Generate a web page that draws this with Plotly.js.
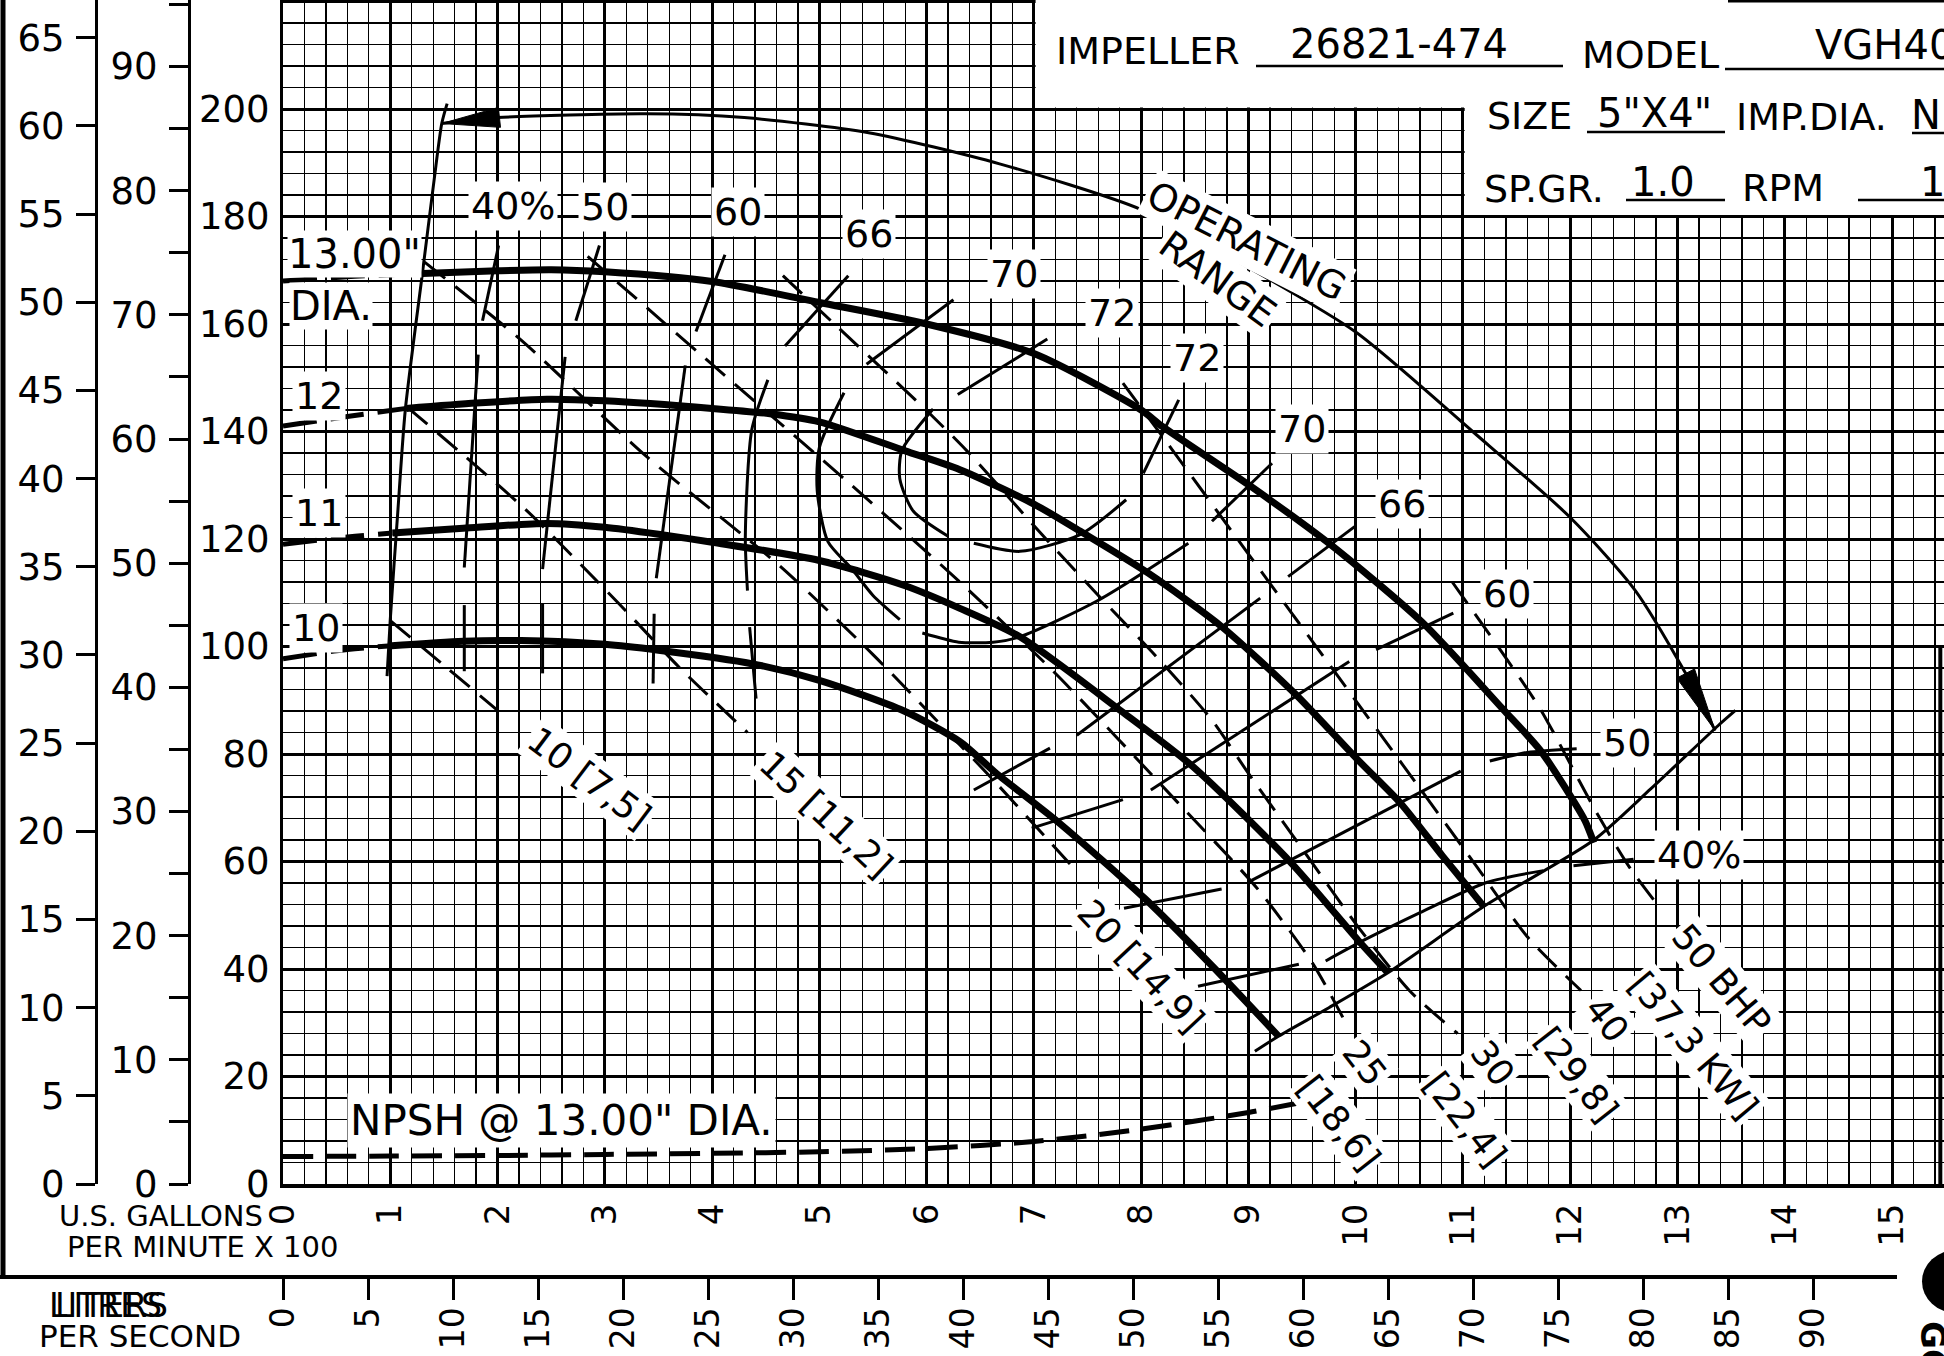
<!DOCTYPE html>
<html><head><meta charset="utf-8">
<script src="https://cdn.plot.ly/plotly-3.0.1.min.js"></script>
<style>html,body{margin:0;padding:0;background:#fff;}#chart{width:1944px;height:1356px;}</style>
</head><body><div id="chart"></div>
<script>
// ===== DATA (flow in US gpm x 100, head in feet) =====
const head13DashX = [0, 0.6, 1.3];
const head13DashY = [168, 168.8, 169.4];
const head13X = [1.3, 2.0, 2.5, 3.0, 4.0, 5.0, 6.0, 7.0, 8.0, 8.2, 9.0, 9.75, 10.62, 11.37, 11.72, 12.02, 12.14, 12.22];
const head13Y = [169.4, 169.9, 170.1, 169.7, 167.9, 164.0, 160.0, 154.5, 144.0, 140.9, 130.1, 119.2, 104.5, 88.4, 80.7, 71.6, 67.5, 63.5];

const head12DashX = [0, 0.6, 1.15];
const head12DashY = [141, 142.8, 144.3];
const head12X = [1.15, 1.8, 2.46, 3.0, 4.0, 4.54, 5.0, 5.8, 6.31, 7.0, 7.46, 8.07, 8.75, 9.43, 10.02, 10.42, 10.81, 11.2];
const head12Y = [144.3, 145.3, 146.0, 145.7, 144.3, 143.3, 141.8, 136.4, 132.9, 126.5, 121.1, 113.6, 103.7, 91.3, 78.9, 70.8, 61.0, 51.5];

const head11DashX = [0, 0.5, 1.02];
const head11DashY = [119, 120.2, 121.1];
const head11X = [1.02, 1.68, 2.46, 3.0, 3.5, 4.0, 5.0, 5.8, 6.31, 6.87, 7.8, 8.48, 9.4, 10.02, 10.3];
const head11Y = [121.1, 122.0, 122.9, 122.2, 120.9, 119.4, 116.0, 111.3, 107.1, 101.8, 88.2, 77.7, 59.7, 45.4, 39.3];

const head10DashX = [0, 0.5, 0.98];
const head10DashY = [97.7, 99.2, 100.1];
const head10X = [0.98, 1.68, 2.22, 3.0, 3.5, 4.37, 5.0, 5.79, 6.31, 6.65, 7.24, 8.04, 8.66, 9.28];
const head10Y = [100.1, 101.0, 101.1, 100.4, 99.3, 96.8, 93.7, 88.0, 82.3, 76.4, 67.1, 53.0, 40.6, 27.5];

const minFlowX = [0.97, 1.0, 1.07, 1.14, 1.3, 1.41, 1.48, 1.53];
const minFlowY = [94.5, 105, 125, 144, 169.5, 187, 197.3, 201];

const rangeX = [1.48, 2.0, 3.38, 4.3, 5.46, 6.68, 8.0, 9.0, 10.0, 11.09, 12.0, 12.6, 13.07, 13.35];
const rangeY = [197.3, 198.4, 199.1, 198.4, 195.6, 189.8, 181.3, 170.5, 158.5, 140.0, 124.0, 110.6, 95.2, 84.4];

const maxLineX = [9.06, 9.28, 9.75, 10.3, 11.2, 12.22, 12.75, 13.38, 13.54];
const maxLineY = [24.7, 27.5, 32.8, 39.3, 51.7, 64.0, 73.5, 85.3, 88.1];

const npshX = [0, 1, 2, 3, 4, 5, 6, 7, 8, 9, 9.75];
const npshY = [5.1, 5.2, 5.3, 5.5, 5.7, 6.0, 6.6, 7.9, 10.2, 13.3, 16.2];

// efficiency iso-lines (segments separated by null)
const eff40X = [2.01, 1.86, null, 1.82, 1.69, null, 1.69, 1.69, null, 12.59, 12.03, null, 11.75, 11.22, 10.6, 10.09, 9.72, null, 9.47, 8.53];
const eff40Y = [174.6, 160.6, null, 154.3, 114.7, null, 107.7, 95.4, null, 60.4, 59.2, null, 58.3, 56.1, 50.5, 45.5, 41.5, null, 40.9, 36.8];
const eff50X = [2.95, 2.73, null, 2.63, 2.42, null, 2.42, 2.42, null, 12.06, 11.6, 11.25, null, 10.98, 9.03, null, 8.75, 7.84];
const eff50Y = [174.6, 160.6, null, 153.9, 114.4, null, 108, 95, null, 81, 80.3, 78.7, null, 76.8, 56.5, null, 54.9, 51.3];
const eff60X = [4.12, 3.85, null, 3.75, 3.48, null, 3.46, 3.45, null, 10.91, 10.19, null, 9.94, 8.09, null, 7.83, 6.98];
const eff60Y = [172.9, 158.6, null, 152.3, 112.7, null, 106.1, 93.1, null, 106.2, 99.4, null, 97.2, 73.3, null, 71.5, 66.2];
const eff66X = [5.27, 4.68, null, 4.52, 4.37, 4.31, 4.33, null, 4.35, 4.41, null, 9.99, 9.37, null, 9.11, 7.4, null, 7.15, 6.44];
const eff66Y = [169, 155.9, null, 149.6, 140.3, 120.4, 110.4, null, 103.6, 90.3, null, 122.3, 113, null, 109, 83.5, null, 81.1, 73.3];
const eff70X = [6.25, 5.44, null, 5.23, 5.0, 4.98, 5.08, 5.3, 5.5, 5.75, null, 5.96, 6.3, 6.62, 6.87, 7.61, 8.44, null, 8.66, 9.22];
const eff70Y = [164.5, 152.5, null, 147.2, 137, 129, 119.5, 114.5, 109.5, 105, null, 102.5, 100.8, 100.8, 101.8, 108.7, 119.2, null, 123.3, 134.1];
const eff72X = [7.125, 6.29, null, 6.06, 5.77, 5.75, 5.875, 6.2, null, 6.44, 6.87, 7.43, 7.86, null, 8.02, 8.35];
const eff72Y = [157.2, 146.9, null, 144.2, 136.5, 131.2, 125.2, 120.5, null, 119.2, 117.7, 120.8, 127.3, null, 132.2, 145.9];

// brake horsepower lines
const bhp10X = [1.0, 1.5, 2.0];
const bhp10Y = [104.8, 96.5, 88.1];
const bhp15X = [1.16, 2.26, 3.13, 3.7, 4.33];
const bhp15Y = [144.5, 125.5, 108, 96, 84];
const bhp20X = [1.32, 2.22, 3.38, 4.63, 5.5, 6.2, 6.62, 7.36];
const bhp20Y = [171.5, 157, 135.5, 115, 98.5, 84, 75.2, 59];
const bhp25X = [2.84, 4.12, 5.3, 6.31, 7.19, 8.34, 9.09, 9.6, 9.88];
const bhp25Y = [172.6, 150.4, 130, 112, 95.2, 71, 54.8, 41, 31];
const bhp30X = [4.66, 5.14, 6.0, 6.38, 7.09, 7.61, 8.17, 8.66, 9.0, 9.4, 10.02, 10.5, 10.95];
const bhp30Y = [169, 160, 143.9, 136.3, 120.5, 109.3, 97.5, 86.3, 76.4, 65.2, 47.9, 36, 28];
const bhp40X = [7.83, 8.29, 9.0, 9.8, 10.5, 11.13, 11.6, 12.1];
const bhp40Y = [149, 136.6, 117.2, 95.4, 76.3, 59, 46, 36];
const bhp50X = [10.9, 11.34, 11.72, 12.22, 12.55, 12.85];
const bhp50Y = [112, 99.6, 88.4, 70, 59, 51];

// axis tick labels
const gpmTicks = [0,1,2,3,4,5,6,7,8,9,10,11,12,13,14,15];
const feetTicks = [0,20,40,60,80,100,120,140,160,180,200,220];
const feetText = ['0','20','40','60','80','100','120','140','160','180','200',''];
const litreTicks = [0,5,10,15,20,25,30,35,40,45,50,55,60,65,70,75,80,85,90];
const FT_PER_M = 3.28084, FT_PER_PSI = 2.31, GPM_PER_LPS = 15.8503;

// ===== GEOMETRY =====
const W = 1944, H = 1356;
const PL = 283, PB = 1184;          // plot left / bottom in px
const SX = 107.27, SY = 5.375;      // px per 100 gpm, px per ft
const XMAX = (W - PL) / SX, YMAX = PB / SY;
const FONT = 'DejaVu Sans, Liberation Sans, sans-serif';

function ln(x, y, w, dash, shape) {
  return {type:'scatter', mode:'lines', x:x, y:y, xaxis:'x', yaxis:'y', connectgaps:false,
    hoverinfo:'skip', line:{color:'#000', width:w, dash:dash || 'solid', shape:shape || 'spline', smoothing:0.7}};
}
function arrowHead(tx, ty, fx, fy, len, hw) {
  let dx = (tx - fx) * SX, dy = (ty - fy) * SY;
  const n = Math.hypot(dx, dy); dx /= n; dy /= n;
  const bx = tx * SX - dx * len, by = ty * SY - dy * len;
  const px = -dy, py = dx;
  return {type:'scatter', mode:'lines', fill:'toself', fillcolor:'#000', hoverinfo:'skip',
    x:[tx, (bx + px*hw)/SX, (bx - px*hw)/SX, tx], y:[ty, (by + py*hw)/SY, (by - py*hw)/SY, ty],
    line:{color:'#000', width:1}};
}

const HEADW = 7, DASHHEAD = '34px,14px', BHPDASH = '26px,13px';
const traces = [
  ln(head13DashX, head13DashY, 5, DASHHEAD), ln(head13X, head13Y, HEADW),
  ln(head12DashX, head12DashY, 5, DASHHEAD), ln(head12X, head12Y, HEADW),
  ln(head11DashX, head11DashY, 5, DASHHEAD), ln(head11X, head11Y, HEADW),
  ln(head10DashX, head10DashY, 5, DASHHEAD), ln(head10X, head10Y, HEADW),
  ln(minFlowX, minFlowY, 3), ln(rangeX, rangeY, 3), ln(maxLineX, maxLineY, 3),
  ln(npshX, npshY, 5, '30px,13px'),
  ln(eff40X, eff40Y, 3), ln(eff50X, eff50Y, 3), ln(eff60X, eff60Y, 3),
  ln(eff66X, eff66Y, 3), ln(eff70X, eff70Y, 3), ln(eff72X, eff72Y, 3),
  ln(bhp10X, bhp10Y, 3, BHPDASH), ln(bhp15X, bhp15Y, 3, BHPDASH), ln(bhp20X, bhp20Y, 3, BHPDASH),
  ln(bhp25X, bhp25Y, 3, BHPDASH), ln(bhp30X, bhp30Y, 3, BHPDASH), ln(bhp40X, bhp40Y, 3, BHPDASH),
  ln(bhp50X, bhp50Y, 3, BHPDASH),
  arrowHead(rangeX[0], rangeY[0], rangeX[1], rangeY[1], 58, 10),
  arrowHead(rangeX[rangeX.length-1], rangeY[rangeY.length-1], rangeX[rangeX.length-2], rangeY[rangeY.length-2], 64, 10),
  {type:'scatter', x:[null], y:[null], xaxis:'x', yaxis:'y2', hoverinfo:'skip'},
  {type:'scatter', x:[null], y:[null], xaxis:'x', yaxis:'y3', hoverinfo:'skip'},
  {type:'scatter', x:[null], y:[null], xaxis:'x2', yaxis:'y', hoverinfo:'skip'}
];

// ===== ANNOTATIONS =====
const anns = [];
function A(text, x, y, o) {
  o = o || {};
  anns.push(Object.assign({text:text, x:x, y:y, xref:'x', yref:'y', showarrow:false,
    font:{family:FONT, size:o.size || 38, color:'#000'}, bgcolor:'#fff', borderpad:o.pad === undefined ? 2 : o.pad,
    textangle:o.angle || 0, xanchor:o.xa || 'center', yanchor:'middle'}, o.extra || {}));
}
function P(text, xpx, ypx, o) {
  o = o || {};
  anns.push({text:text, x:xpx / W, y:1 - ypx / H, xref:'paper', yref:'paper', showarrow:false,
    font:{family:FONT, size:o.size || 38, color:'#000', weight:o.weight || 'normal'}, bgcolor:o.bg || 'rgba(0,0,0,0)',
    xanchor:o.xa || 'left', yanchor:'middle', textangle:o.angle || 0, borderpad:0});
}
// diameters
A('13.00"', 0.04, 173.1, {xa:'left', pad:0, size:40});
A('DIA.', 0.06, 163.3, {xa:'left', pad:0, size:40});
A('12', 0.08, 146.6, {xa:'left'});
A('11', 0.08, 124.8, {xa:'left'});
A('10', 0.06, 103.4, {xa:'left'});
// efficiencies
A('40%', 2.14, 182); A('50', 3.0, 181.8); A('60', 4.24, 180.8); A('66', 5.46, 176.7);
A('70', 6.81, 169.3); A('72', 7.73, 162.1); A('72', 8.52, 153.6); A('70', 9.5, 140.4);
A('66', 10.43, 126.6); A('60', 11.41, 109.7); A('50', 12.53, 82); A('40%', 13.2, 61.2);
// operating range
A('OPERATING', 8.98, 175.4, {angle:27});
A('RANGE', 8.71, 168.3, {angle:36});
// BHP
A('10 [7,5]', 2.86, 75.5, {angle:37, size:36});
A('15 [11,2]', 5.06, 68.7, {angle:43, size:36});
A('20 [14,9]', 8.0, 40.5, {angle:47, size:36});
A('25', 10.09, 22.5, {angle:52, size:36}); A('[18,6]', 9.84, 11.4, {angle:52, size:36});
A('30', 11.28, 22.5, {angle:52, size:36}); A('[22,4]', 11.02, 12, {angle:52, size:36});
A('40', 12.34, 30.6, {angle:52, size:36}); A('[29,8]', 12.06, 20.4, {angle:52, size:36});
A('50 BHP', 13.41, 38, {angle:50, size:36}); A('[37,3 KW]', 13.15, 25.8, {angle:50, size:36});
// NPSH
A('NPSH @ 13.00" DIA.', 2.6, 11.9, {size:42});

// title block
P('IMPELLER', 1055, 51);
P('26821-474', 1399, 44, {xa:'center', size:40});
P('MODEL', 1581, 55);
P('VGH40', 1814, 45, {size:40});
P('SIZE', 1486, 116);
P('5"X4"', 1654, 113, {xa:'center', size:40});
P('IMP.DIA.', 1735, 117);
P('N', 1910, 115, {size:40});
P('SP.GR.', 1483, 189);
P('1.0', 1663, 182, {xa:'center', size:40});
P('RPM', 1741, 188);
P('1', 1919, 182, {size:40});
// unit captions
P('U.S. GALLONS', 58, 1216, {size:29});
P('PER MINUTE X 100', 66, 1247, {size:29});
P('LITRES', 48, 1305, {size:33});
P('LITERS', 54, 1305, {size:33});
P('PER SECOND', 38, 1336, {size:31});
P('GOULDS', 1933, 1400, {size:34, weight:'bold', angle:90, xa:'center'});

// ===== SHAPES =====
const shapes = [];
function hl(x0, x1, y, w) { shapes.push({type:'line', xref:'paper', yref:'paper', x0:x0/W, x1:x1/W, y0:1-y/H, y1:1-y/H, line:{color:'#000', width:w}}); }
function vl(x, y0, y1, w) { shapes.push({type:'line', xref:'paper', yref:'paper', x0:x/W, x1:x/W, y0:1-y0/H, y1:1-y1/H, line:{color:'#000', width:w}}); }
shapes.push({type:'rect', xref:'x', yref:'y', x0:7.016, x1:XMAX + 0.1, y0:200.3, y1:YMAX + 1, fillcolor:'#fff', line:{width:0}, layer:'between'});
shapes.push({type:'rect', xref:'x', yref:'y', x0:11.016, x1:XMAX + 0.1, y0:180.3, y1:200.5, fillcolor:'#fff', line:{width:0}, layer:'between'});
shapes.push({type:'line', xref:'x', yref:'y', x0:15.45, x1:15.45, y0:0, y1:100, line:{color:'#000', width:4}});
hl(0, 1897, 1277, 4);          // litres axis line
vl(3, 0, 1277, 5);             // left border
hl(1728, W, 1, 3);             // title block top
hl(1256, 1563, 66, 2.5); hl(1725, W, 69, 2.5);
hl(1587, 1725, 132, 2.5); hl(1912, W, 133, 2.5);
hl(1626, 1725, 200, 2.5); hl(1858, W, 200, 2.5);
shapes.push({type:'circle', xref:'paper', yref:'paper', x0:1922/W, x1:1990/W, y0:1-1313/H, y1:1-1250/H, fillcolor:'#000', line:{width:0}});

const tickFont = {family:FONT, size:37, color:'#000'};
const layout = {
  width:W, height:H, margin:{l:0, r:0, t:0, b:0}, paper_bgcolor:'#fff', plot_bgcolor:'#fff',
  showlegend:false, hovermode:false,
  xaxis:{domain:[PL/W, 1], range:[0, XMAX], tickmode:'array', tickvals:gpmTicks, ticktext:gpmTicks.map(String),
    showgrid:true, gridcolor:'#000', gridwidth:3,
    minor:{tickmode:'linear', tick0:0, dtick:0.2, showgrid:true, gridcolor:'#000', gridwidth:1.3, ticks:''},
    zeroline:false, showline:true, linecolor:'#000', linewidth:4, ticks:'', tickangle:-90,
    tickfont:{family:FONT, size:34, color:'#000'}, ticklabelstandoff:2, fixedrange:true},
  xaxis2:{overlaying:'x', anchor:'free', position:(H-1277)/H, side:'bottom', domain:[PL/W, 1],
    range:[0, XMAX*100/GPM_PER_LPS], tickmode:'array', tickvals:litreTicks, ticktext:litreTicks.map(String),
    ticks:'outside', ticklen:22, tickwidth:3, tickcolor:'#000', showline:false, showgrid:false, zeroline:false,
    tickangle:-90, tickfont:{family:FONT, size:33, color:'#000'}, ticklabelstandoff:-6, fixedrange:true},
  yaxis:{domain:[(H-PB)/H, 1], range:[0, YMAX], tickmode:'array', tickvals:feetTicks, ticktext:feetText,
    showgrid:true, gridcolor:'#000', gridwidth:3,
    minor:{tickmode:'linear', tick0:0, dtick:4, showgrid:true, gridcolor:'#000', gridwidth:1.3, ticks:''},
    zeroline:false, showline:true, linecolor:'#000', linewidth:3, ticks:'', tickfont:tickFont, ticklabelstandoff:3, fixedrange:true},
  yaxis2:{overlaying:'y', anchor:'free', position:96/W, side:'left', domain:[(H-PB)/H, 1],
    range:[0, YMAX/FT_PER_M], tickmode:'linear', tick0:0, dtick:5, ticks:'outside', ticklen:19, tickwidth:3, tickcolor:'#000',
    showline:true, linecolor:'#000', linewidth:3, showgrid:false, zeroline:false, tickfont:tickFont, ticklabelstandoff:4, fixedrange:true},
  yaxis3:{overlaying:'y', anchor:'free', position:189/W, side:'left', domain:[(H-PB)/H, 1],
    range:[0, YMAX/FT_PER_PSI], tickmode:'linear', tick0:0, dtick:10, ticks:'outside', ticklen:19, tickwidth:3, tickcolor:'#000',
    minor:{tickmode:'linear', tick0:0, dtick:5, ticks:'outside', ticklen:19, tickwidth:3, tickcolor:'#000', showgrid:false},
    showline:true, linecolor:'#000', linewidth:3, showgrid:false, zeroline:false, tickfont:tickFont, ticklabelstandoff:4, fixedrange:true},
  annotations:anns, shapes:shapes
};
Plotly.newPlot('chart', traces, layout, {staticPlot:true, displayModeBar:false});
</script></body></html>
